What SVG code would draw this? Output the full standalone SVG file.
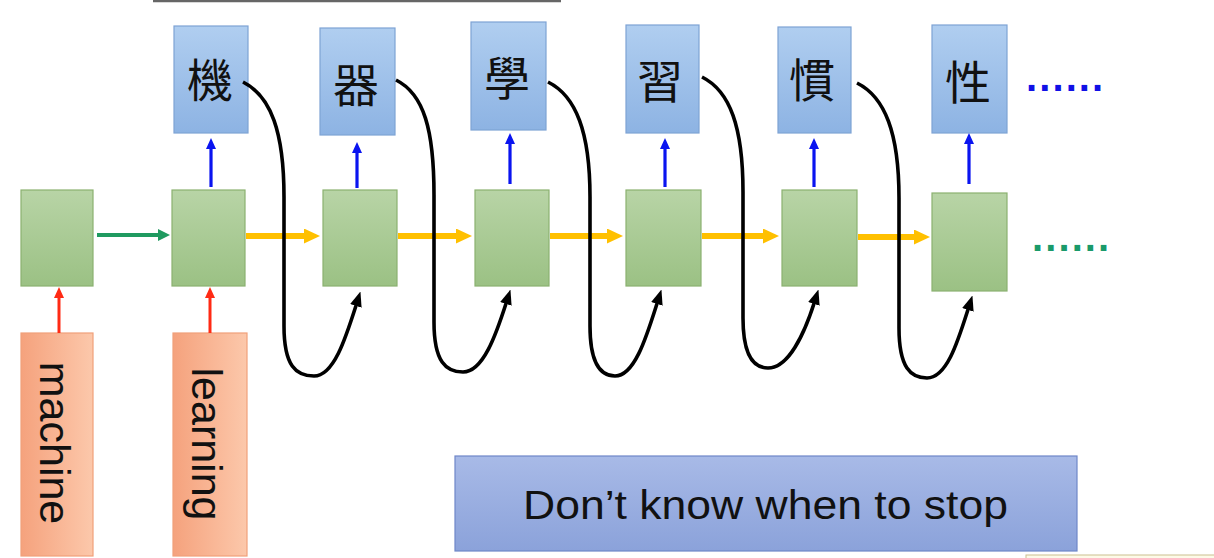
<svg xmlns="http://www.w3.org/2000/svg" width="1214" height="558" viewBox="0 0 1214 558">
<defs>
<linearGradient id="gBlue" x1="0" y1="0" x2="0" y2="1"><stop offset="0" stop-color="#b0cef0"/><stop offset="1" stop-color="#8db3e3"/></linearGradient>
<linearGradient id="gGreen" x1="0" y1="0" x2="0" y2="1"><stop offset="0" stop-color="#b8d4a6"/><stop offset="1" stop-color="#9bc184"/></linearGradient>
<linearGradient id="gOrange" x1="0" y1="0" x2="1" y2="0"><stop offset="0" stop-color="#f5a27d"/><stop offset="1" stop-color="#fcc8ab"/></linearGradient>
<linearGradient id="gStop" x1="0" y1="0" x2="0" y2="1"><stop offset="0" stop-color="#a8bae7"/><stop offset="1" stop-color="#8ba2da"/></linearGradient>
<marker id="mBlue" markerUnits="userSpaceOnUse" markerWidth="11" markerHeight="11" refX="2" refY="5" orient="auto"><path d="M0,0 L11,5 L0,10 z" fill="#0a14f0"/></marker>
<marker id="mRed" markerUnits="userSpaceOnUse" markerWidth="11" markerHeight="11" refX="2" refY="5" orient="auto"><path d="M0,0 L11,5 L0,10 z" fill="#ff2a14"/></marker>
<marker id="mGreen" markerUnits="userSpaceOnUse" markerWidth="12" markerHeight="12" refX="2" refY="6" orient="auto"><path d="M0,0 L12,6 L0,12 z" fill="#1f9a60"/></marker>
<marker id="mOrange" markerUnits="userSpaceOnUse" markerWidth="16" markerHeight="16" refX="2" refY="7.5" orient="auto"><path d="M0,0 L16,7.5 L0,15 z" fill="#ffc000"/></marker>
<marker id="mBlack" markerUnits="userSpaceOnUse" markerWidth="15" markerHeight="13" refX="2" refY="6" orient="auto"><path d="M0,0 L15,6 L0,12 z" fill="#000"/></marker>
</defs>
<style>
.bb{fill:url(#gBlue);stroke:#7ea3d4;stroke-width:1.2}
.gb{fill:url(#gGreen);stroke:#8bb170;stroke-width:1.2}
.ob{fill:url(#gOrange);stroke:#f0a07a;stroke-width:1.2}
.sb{fill:url(#gStop);stroke:#6f87c8;stroke-width:1.2}
.cjk{font-family:"Noto Sans CJK TC","Noto Sans CJK SC",sans-serif;font-size:46px;fill:#111;text-anchor:middle}
.vt{font-family:"Liberation Sans",Arial,sans-serif;font-size:43px;fill:#111;text-anchor:middle}
.ba{stroke:#0a14f0;stroke-width:3.2;marker-end:url(#mBlue)}
.ra{stroke:#ff2a14;stroke-width:3;marker-end:url(#mRed)}
.ga{stroke:#1f9a60;stroke-width:4;marker-end:url(#mGreen)}
.oa{stroke:#ffc000;stroke-width:6;marker-end:url(#mOrange)}
.loop{fill:none;stroke:#000;stroke-width:3.6;marker-end:url(#mBlack)}
.dots{font-family:"Liberation Sans",Arial,sans-serif;font-weight:bold;font-size:40px;letter-spacing:2.1px}
</style>
<rect width="1214" height="558" fill="#fff"/>
<line x1="153" y1="1" x2="561" y2="1" stroke="#666" stroke-width="2.5"/>
<rect x="1026" y="555" width="200" height="10" fill="#fdfae8" stroke="#cbbf90" stroke-width="1"/>

<g id="input-machine"><rect class="ob" x="21" y="333" width="72" height="223"/><text class="vt" transform="translate(40,443) rotate(90)">machine</text></g>
<g id="input-learning"><rect class="ob" x="173" y="333" width="74" height="223"/><text class="vt" transform="translate(192,444) rotate(90)">learning</text></g>

<g id="h1"><rect class="gb" x="21" y="190" width="72" height="96"/></g>
<g id="h2"><rect class="gb" x="172" y="190" width="73" height="96"/></g>
<g id="h3"><rect class="gb" x="323" y="190" width="74" height="96"/></g>
<g id="h4"><rect class="gb" x="475" y="190" width="74" height="96"/></g>
<g id="h5"><rect class="gb" x="626" y="190" width="75" height="96"/></g>
<g id="h6"><rect class="gb" x="782" y="190" width="75" height="96"/></g>
<g id="h7"><rect class="gb" x="932" y="193" width="75" height="98"/></g>

<g id="o1"><rect class="bb" x="174" y="26" width="74" height="107"/><text class="cjk" x="210" y="97">機</text></g>
<g id="o2"><rect class="bb" x="320" y="28" width="75" height="107"/><text class="cjk" x="356" y="102">器</text></g>
<g id="o3"><rect class="bb" x="471" y="22" width="75" height="108"/><text class="cjk" x="507" y="95">學</text></g>
<g id="o4"><rect class="bb" x="626" y="25" width="73" height="108"/><text class="cjk" x="660" y="98">習</text></g>
<g id="o5"><rect class="bb" x="778" y="27" width="73" height="106"/><text class="cjk" x="812" y="97">慣</text></g>
<g id="o6"><rect class="bb" x="932" y="25" width="75" height="108"/><text class="cjk" x="968" y="99">性</text></g>

<g id="more-out"><text class="dots" x="1026" y="91" fill="#1010e6">......</text></g>
<g id="more-hidden"><text class="dots" x="1032" y="251" fill="#1a9a6a">......</text></g>

<g id="note"><rect class="sb" x="455" y="456" width="622" height="95"/><text x="523" y="519" font-family="'Liberation Sans',Arial,sans-serif" font-size="40" fill="#111" textLength="485" lengthAdjust="spacingAndGlyphs">Don’t know when to stop</text></g>

<g id="connectors">
<line class="ra" x1="59" y1="333" x2="59" y2="296"/>
<line class="ra" x1="210" y1="333" x2="210" y2="296"/>
<line class="ga" x1="97" y1="235" x2="160" y2="235"/>
<line class="oa" x1="246" y1="236" x2="306" y2="236"/>
<line class="oa" x1="398" y1="236" x2="458" y2="236"/>
<line class="oa" x1="550" y1="236" x2="609" y2="236"/>
<line class="oa" x1="702" y1="236" x2="765" y2="236"/>
<line class="oa" x1="858" y1="237" x2="916" y2="237"/>
<line class="ba" x1="211" y1="187" x2="211" y2="147"/>
<line class="ba" x1="357" y1="188" x2="357" y2="151"/>
<line class="ba" x1="510" y1="184" x2="510" y2="142"/>
<line class="ba" x1="665" y1="187" x2="665" y2="147"/>
<line class="ba" x1="814" y1="187" x2="814" y2="147"/>
<line class="ba" x1="969" y1="184" x2="969" y2="142"/>
<path class="loop" d="M243,82 C271,96 284,132 284,197 L284,326 C284,366 296,376 314,376 C334,376 346,337 356.5,304"/>
<path class="loop" d="M396,80 C424,94 434,130 434,195 L434,322 C434,362 446,372 463,372 C483,372 496,335 506.5,302"/>
<path class="loop" d="M548,82 C576,96 590,132 590,197 L590,326 C590,366 602,376 615,376 C635,376 647,335 657.5,302"/>
<path class="loop" d="M702,77 C730,91 743,127 743,192 L743,318 C743,358 755,368 768,368 C788,368 804,335 814.5,302"/>
<path class="loop" d="M857,83 C885,97 899,133 899,198 L899,328 C899,368 911,378 927,378 C947,378 958,341 968.5,308"/>
</g>
</svg>
